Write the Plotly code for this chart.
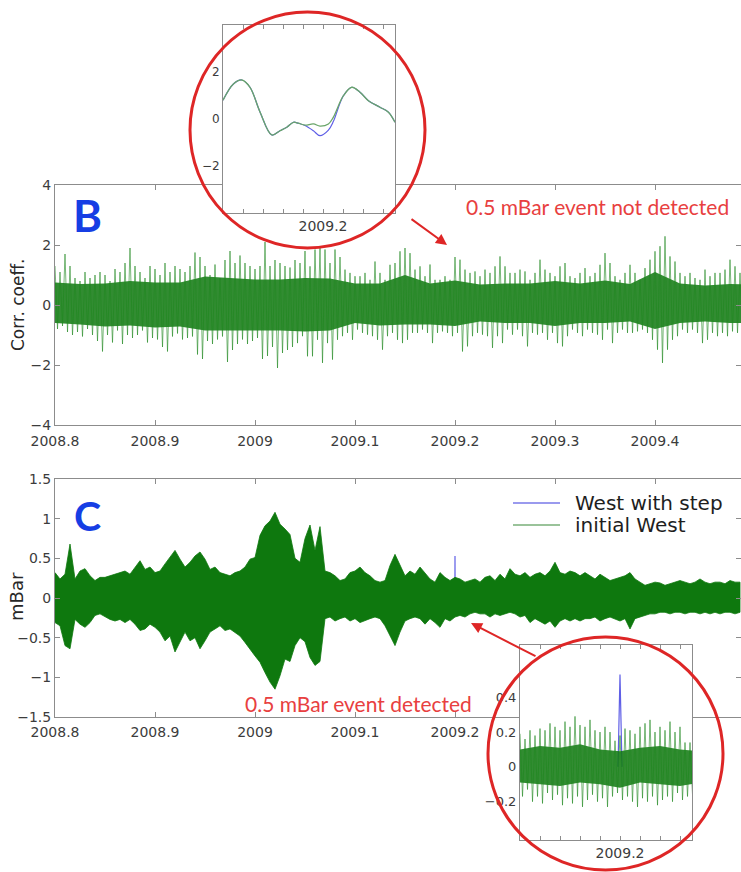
import plotly.graph_objects as go

W, H = 741, 872

# ---------------- Panel B: correlation coefficient ----------------
# min / max of the trace in consecutive 0.005-yr bins starting at 2008.8
B_T0, B_DT = 2008.8, 0.005
b_upper = [1.3, 1.1, 1.7, 1.3, 0.9, 0.8, 1.1, 0.9, 1.0, 1.1, 1.0, 0.8, 1.2, 1.1, 1.4, 1.9, 1.3, 1.1, 0.9, 1.3,
           1.2, 1.0, 1.4, 1.1, 1.3, 1.2, 1.1, 1.3, 1.75, 1.6, 1.3, 1.0, 1.35, 0.9, 1.5, 1.8, 1.4, 1.65, 1.4, 1.3,
           1.2, 1.3, 2.1, 1.3, 1.5, 1.4, 1.3, 1.25,
           1.5, 1.4, 1.8, 1.29, 1.85, 1.9, 1.85, 1.4, 1.85, 1.6, 1.18, 1.07, 0.96, 0.96, 1.07, 0.84, 1.45, 1.07,
           0.84, 1.34, 1.4, 1.79, 1.9, 1.73, 1.18, 1.29, 0.96, 1.35, 0.84, 0.84, 0.96, 0.84, 1.6, 1.51, 1.18, 1.07,
           1.12, 0.96, 1.18, 1.07, 1.29, 1.62, 1.29, 1.07,
           1.07, 1.18, 1.12, 0.84, 1.07, 1.51, 1.18, 1.07, 0.96, 1.29, 1.4, 0.96, 0.9, 1.07, 1.23, 0.96, 1.07, 1.34,
           1.73, 1.4, 0.96, 0.84, 1.07, 1.34, 1.07, 0.84, 1.23, 1.51, 1.79, 1.96, 2.29, 1.62, 1.45, 1.07, 0.96, 1.07,
           0.9, 0.84, 1.18, 0.96, 1.07, 1.07, 1.18, 1.51, 1.29, 1.07]
b_lower = [-0.8, -0.7, -0.9, -1.0, -0.9, -1.05, -0.8, -1.0, -1.2, -1.55, -1.0, -1.25, -0.85, -1.3, -1.0, -1.1,
           -1.0, -0.85, -1.25, -1.1, -1.15, -1.4, -1.55, -1.05, -0.95, -1.15, -1.1, -1.05, -1.65, -1.8, -1.2, -1.3,
           -1.15, -1.05, -1.9, -1.5, -1.3, -1.15, -1.3, -1.2, -1.1, -1.8, -1.7, -1.4, -2.1, -1.6, -1.5, -1.4,
           -1.27, -1.04, -1.71, -1.71, -1.16, -1.93, -1.27, -1.82, -1.16, -1.04, -0.93, -1.16, -0.82, -0.93, -0.99,
           -1.04, -1.16, -1.49, -1.04, -0.93, -1.16, -1.27, -1.16, -0.93, -0.93, -0.82, -0.93, -1.27, -0.93, -0.88,
           -0.93, -1.04, -0.93, -1.55, -1.38, -1.04, -0.93, -0.99, -1.04, -1.43, -1.04, -1.27, -0.82, -0.99,
           -0.82, -1.04, -1.38, -0.93, -0.99, -0.93, -1.16, -0.93, -1.27, -1.38, -1.04, -0.82, -0.93, -1.04, -0.82,
           -0.93, -0.99, -1.16, -0.82, -1.27, -0.93, -0.82, -0.93, -0.93, -0.88, -0.82, -0.93, -1.16, -1.49, -1.93,
           -1.49, -1.16, -1.04, -0.82, -0.93, -0.82, -0.93, -1.27, -1.16, -0.93, -1.04, -0.93, -1.04, -0.88, -0.93,
           -0.82]
# dense core of the same trace, 0.025-yr bins
B_CORE_DT = 0.025
b_core_upper = [0.75, 0.7, 0.72, 0.8, 0.75, 0.75, 0.95, 0.9, 0.85, 0.85, 0.9, 0.88, 0.72, 0.72, 1.0, 0.72,
                0.82, 0.68, 0.72, 0.72, 0.8, 0.72, 0.82, 0.7, 1.1, 0.72, 0.65, 0.7, 0.68]
b_core_lower = [-0.6, -0.65, -0.72, -0.68, -0.75, -0.72, -0.85, -0.85, -0.85, -0.85, -0.88, -0.85, -0.6,
                -0.68, -0.65, -0.65, -0.7, -0.55, -0.6, -0.6, -0.7, -0.6, -0.6, -0.55, -0.8, -0.6, -0.55,
                -0.6, -0.6]

# ---------------- Panel C: pressure (mBar) ----------------
C_T0, C_DT = 2008.8, 0.005
c_upper = [0.32, 0.24, 0.3, 0.68, 0.24, 0.34, 0.37, 0.28, 0.22, 0.26, 0.26, 0.28, 0.3, 0.32, 0.34, 0.3, 0.39,
           0.47, 0.36, 0.39, 0.32, 0.34, 0.43, 0.51, 0.6, 0.49, 0.39, 0.45, 0.53, 0.58, 0.49, 0.36, 0.39, 0.32,
           0.3, 0.28, 0.32, 0.34, 0.39, 0.49, 0.51, 0.79, 0.91, 0.97, 1.08, 0.93, 0.87, 0.8,
           0.5, 0.45, 0.75, 0.92, 0.6, 0.9,
           0.34, 0.32, 0.28, 0.22, 0.24, 0.32, 0.34, 0.39, 0.32, 0.28, 0.22, 0.2, 0.22, 0.41, 0.55, 0.41, 0.28,
           0.34, 0.3, 0.39, 0.32, 0.24, 0.2, 0.32, 0.26, 0.22, 0.26, 0.24, 0.2, 0.22, 0.24, 0.2, 0.26, 0.28, 0.22,
           0.3, 0.24, 0.37,
           0.3, 0.28, 0.32, 0.26, 0.3, 0.32, 0.28, 0.34, 0.45, 0.32, 0.3, 0.34, 0.32, 0.28, 0.32, 0.28, 0.24, 0.3,
           0.26, 0.22, 0.24, 0.26, 0.28, 0.32, 0.24, 0.2, 0.16, 0.18, 0.2, 0.19, 0.16, 0.18, 0.2, 0.22, 0.2, 0.18,
           0.2, 0.24, 0.2, 0.18, 0.2, 0.2, 0.18, 0.22, 0.2, 0.2]
c_lower = [-0.31, -0.35, -0.6, -0.64, -0.27, -0.33, -0.37, -0.31, -0.22, -0.2, -0.24, -0.27, -0.29, -0.27,
           -0.31, -0.27, -0.33, -0.41, -0.39, -0.33, -0.37, -0.43, -0.54, -0.48, -0.68, -0.56, -0.43, -0.54, -0.5,
           -0.64, -0.54, -0.43, -0.39, -0.35, -0.41, -0.39, -0.43, -0.48, -0.56, -0.64, -0.73, -0.81, -0.94,
           -1.06, -1.15, -0.98, -0.77, -0.8,
           -0.6, -0.5, -0.55, -0.75, -0.85, -0.8,
           -0.26, -0.24, -0.29, -0.26, -0.24, -0.29, -0.26, -0.31, -0.29, -0.26, -0.24, -0.26, -0.35, -0.47, -0.6,
           -0.43, -0.29, -0.26, -0.24, -0.26, -0.33, -0.26, -0.31, -0.37, -0.26, -0.29, -0.24, -0.22, -0.24, -0.2,
           -0.18, -0.2, -0.2, -0.24, -0.2, -0.22, -0.2, -0.18,
           -0.2, -0.24, -0.22, -0.31, -0.26, -0.29, -0.33, -0.29, -0.37, -0.29, -0.26, -0.29, -0.26, -0.29, -0.26,
           -0.26, -0.24, -0.29, -0.26, -0.24, -0.26, -0.29, -0.26, -0.39, -0.26, -0.24, -0.22, -0.2, -0.2, -0.18,
           -0.18, -0.2, -0.18, -0.18, -0.2, -0.18, -0.18, -0.2, -0.18, -0.2, -0.18, -0.2, -0.18, -0.18, -0.2,
           -0.18]

# 0.5 mBar step added at 2009.2 ("West with step")
step_t = [2009.1999, 2009.2, 2009.2001]
step_v = [0.0, 0.53, 0.0]

# ---------------- Zoom of panel B around 2009.2 ----------------
zb_t = [2009.195, 2009.19552, 2009.19594, 2009.19635, 2009.19685, 2009.19744, 2009.19785, 2009.19819,
        2009.19852, 2009.19877, 2009.1991, 2009.19952, 2009.19985, 2009.20027, 2009.20052, 2009.20102,
        2009.20144, 2009.20185, 2009.20227, 2009.20285, 2009.20327, 2009.2036]
zb_initial = [0.8, 1.49, 1.66, 1.35, 0.3, -0.68, -0.5, -0.35, -0.14, -0.18, -0.26, -0.21, -0.3, -0.21, 0.08,
              0.99, 1.35, 1.14, 0.78, 0.5, 0.29, -0.14]
zb_with_step = [0.8, 1.49, 1.66, 1.35, 0.3, -0.68, -0.5, -0.35, -0.14, -0.18, -0.28, -0.5, -0.71, -0.47, -0.1,
                0.99, 1.35, 1.14, 0.78, 0.5, 0.29, -0.14]

# ---------------- Zoom of panel C around 2009.2 ----------------
ZC_T0, ZC_DT = 2009.195, 0.00025
zc_upper = [0.19, 0.16, 0.21, 0.18, 0.22, 0.21, 0.25, 0.23, 0.21, 0.26, 0.23, 0.29, 0.24, 0.23, 0.27, 0.21,
            0.2, 0.23, 0.2, 0.15, 0.18, 0.22, 0.21, 0.19, 0.23, 0.25, 0.27, 0.2, 0.23, 0.21, 0.26, 0.2, 0.23,
            0.14, 0.14]
zc_lower = [-0.17, -0.13, -0.2, -0.17, -0.21, -0.15, -0.19, -0.16, -0.22, -0.18, -0.21, -0.17, -0.23, -0.19,
            -0.16, -0.2, -0.18, -0.23, -0.17, -0.15, -0.19, -0.17, -0.2, -0.23, -0.18, -0.2, -0.17, -0.22,
            -0.19, -0.17, -0.2, -0.15, -0.19, -0.17, -0.16]
ZC_CORE_DT = 0.001
zc_core_upper = [0.1, 0.12, 0.11, 0.13, 0.1, 0.09, 0.11, 0.12, 0.1, 0.09]
zc_core_lower = [-0.09, -0.1, -0.11, -0.09, -0.1, -0.12, -0.09, -0.1, -0.11, -0.09]

# ---------------- Axes ticks ----------------
main_tickvals = [2008.8, 2008.9, 2009.0, 2009.1, 2009.2, 2009.3, 2009.4]
main_ticktext = ["2008.8", "2008.9", "2009", "2009.1", "2009.2", "2009.3", "2009.4"]
b_yticks = [-4, -2, 0, 2, 4]
b_yticktext = ["\u22124", "\u22122", "0", "2", "4"]
c_yticks = [-1.5, -1, -0.5, 0, 0.5, 1, 1.5]
c_yticktext = ["\u22121.5", "\u22121", "\u22120.5", "0", "0.5", "1", "1.5"]
zoom_tickvals = [2009.195, 2009.196, 2009.197, 2009.198, 2009.199, 2009.2, 2009.201, 2009.202, 2009.203]
zoom_ticktext = ["", "", "", "", "", "2009.2", "", "", ""]
zb_yticks = [-2, 0, 2]
zb_yticktext = ["\u22122", "0", "2"]
zc_yticks = [-0.2, 0, 0.2, 0.4]
zc_yticktext = ["\u22120.2", "0", "0.2", "0.4"]

legend_names = ["West with step", "initial West"]

# ---------------- Styling ----------------
GREEN = "rgb(14,120,14)"
GREEN_SPIKE = "rgba(30,135,30,0.6)"
BLUE = "rgb(95,95,230)"
RED = "rgb(222,38,38)"
RED_TEXT = "rgb(232,64,64)"
LETTER_BLUE = "rgb(22,62,228)"
FRAME = "rgb(140,140,140)"
TXT = "rgb(60,60,60)"
TICK_FONT = "DejaVu Sans, Verdana, sans-serif"


def fx(px):
    return px / W


def fy(py):
    return 1 - py / H


def bins(t0, dt, n):
    return [t0 + i * dt for i in range(n)]


def minmax_path(t0, dt, hi, lo):
    """Alternate bin maxima and minima so the dense trace is drawn as one line."""
    xs, ys = [], []
    for t, h, l in zip(bins(t0, dt, len(hi)), hi, lo):
        xs += [t, t + dt / 2]
        ys += [h, l]
    return xs, ys


def band(t0, dt, hi, lo):
    t = bins(t0, dt, len(hi))
    return t + t[::-1], list(hi) + list(lo)[::-1]


fig = go.Figure()

# Panel B
bx, by = band(B_T0, B_CORE_DT, b_core_upper, b_core_lower)
fig.add_trace(go.Scatter(x=bx, y=by, fill="toself", fillcolor="rgba(14,120,14,0.85)",
                         line=dict(width=0), mode="lines", xaxis="x", yaxis="y", hoverinfo="skip"))
sx, sy = minmax_path(B_T0, B_DT, b_upper, b_lower)
fig.add_trace(go.Scatter(x=sx, y=sy, mode="lines", line=dict(color=GREEN_SPIKE, width=1),
                         xaxis="x", yaxis="y", hoverinfo="skip"))

# Panel C
fig.add_trace(go.Scatter(x=step_t, y=step_v, mode="lines", line=dict(color=BLUE, width=1.2),
                         name=legend_names[0], xaxis="x2", yaxis="y2"))
cx, cy = band(C_T0, C_DT, c_upper, c_lower)
fig.add_trace(go.Scatter(x=cx, y=cy, fill="toself", fillcolor=GREEN, mode="lines",
                         line=dict(color=GREEN, width=0.8), name=legend_names[1],
                         xaxis="x2", yaxis="y2"))

# Zoom of B
fig.add_trace(go.Scatter(x=zb_t, y=zb_with_step, mode="lines", line=dict(color=BLUE, width=1.2, shape="spline"),
                         xaxis="x3", yaxis="y3"))
fig.add_trace(go.Scatter(x=zb_t, y=zb_initial, mode="lines",
                         line=dict(color="rgb(105,165,105)", width=1.3, shape="spline"),
                         xaxis="x3", yaxis="y3"))

# Zoom of C
fig.add_trace(go.Scatter(x=step_t, y=step_v, mode="lines", line=dict(color=BLUE, width=1.2),
                         xaxis="x4", yaxis="y4"))
zx_, zy_ = band(ZC_T0, ZC_CORE_DT, zc_core_upper, zc_core_lower)
fig.add_trace(go.Scatter(x=zx_, y=zy_, fill="toself", fillcolor="rgba(14,120,14,0.85)",
                         line=dict(width=0), mode="lines", xaxis="x4", yaxis="y4"))
zsx, zsy = minmax_path(ZC_T0, ZC_DT, zc_upper, zc_lower)
fig.add_trace(go.Scatter(x=zsx, y=zsy, mode="lines", line=dict(color="rgba(30,135,30,0.6)", width=1),
                         xaxis="x4", yaxis="y4"))

fig.update_traces(showlegend=False)


def axis(**kw):
    base = dict(showline=True, linecolor=FRAME, linewidth=1, mirror="ticks", ticks="inside",
                tickcolor=FRAME, ticklen=5, showgrid=False, zeroline=False, automargin=False,
                tickfont=dict(family=TICK_FONT, size=14, color=TXT), fixedrange=True)
    base.update(kw)
    return base


main_x_range = [2008.8, 2008.8 + (W - 55) / 1000]
fig.update_layout(
    width=W, height=H, margin=dict(l=0, r=0, t=0, b=0, pad=0, autoexpand=False),
    paper_bgcolor="white", plot_bgcolor="white", showlegend=False,
    xaxis=axis(domain=[fx(55), 1.0], range=main_x_range, tickvals=main_tickvals, ticktext=main_ticktext,
               anchor="y", ticklabelstandoff=3),
    yaxis=axis(domain=[fy(425), fy(185)], range=[-4, 4], tickvals=b_yticks, ticktext=b_yticktext,
               anchor="x"),
    xaxis2=axis(domain=[fx(55), 1.0], range=main_x_range, tickvals=main_tickvals, ticktext=main_ticktext,
                anchor="y2", ticklabelstandoff=2),
    yaxis2=axis(domain=[fy(717), fy(479)], range=[-1.5, 1.5], tickvals=c_yticks, ticktext=c_yticktext,
                anchor="x2"),
    xaxis3=axis(domain=[fx(223), fx(395)], range=[2009.195, 2009.2036], tickvals=zoom_tickvals,
                ticktext=zoom_ticktext, ticklen=4, anchor="y3"),
    yaxis3=axis(domain=[fy(213), fy(25)], range=[-4, 4], tickvals=zb_yticks, ticktext=zb_yticktext,
                ticks="", tickfont=dict(family=TICK_FONT, size=12, color=TXT), anchor="x3"),
    xaxis4=axis(domain=[fx(520), fx(692)], range=[2009.195, 2009.2036], tickvals=zoom_tickvals,
                ticktext=zoom_ticktext, ticklen=4, anchor="y4"),
    yaxis4=axis(domain=[fy(840), fy(645)], range=[-0.42, 0.7], tickvals=zc_yticks, ticktext=zc_yticktext,
                ticks="", tickfont=dict(family=TICK_FONT, size=13, color=TXT), anchor="x4"),
)

shapes = [
    dict(type="circle", xref="paper", yref="paper", x0=fx(190), x1=fx(425), y0=fy(248), y1=fy(12),
         line=dict(color=RED, width=3), layer="above"),
    dict(type="circle", xref="paper", yref="paper", x0=fx(488), x1=fx(723), y0=fy(870), y1=fy(637),
         line=dict(color=RED, width=3), layer="above"),
]
legend_colors = ["rgb(120,120,232)", "rgb(120,175,120)"]
LEG_Y0, LEG_DY = 503, 22
for i, col in enumerate(legend_colors):
    ly = LEG_Y0 + LEG_DY * i
    shapes.append(dict(type="line", xref="paper", yref="paper", x0=fx(513), x1=fx(560), y0=fy(ly), y1=fy(ly),
                       line=dict(color=col, width=1.3), layer="above"))
fig.update_layout(shapes=shapes)

ann = [
    dict(text="Corr. coeff.", x=fx(18), y=fy(305), textangle=-90,
         font=dict(family=TICK_FONT, size=17, color="rgb(40,40,40)")),
    dict(text="mBar", x=fx(16), y=fy(597), textangle=-90,
         font=dict(family=TICK_FONT, size=18, color="rgb(40,40,40)")),
    dict(text="<b>B</b>", x=fx(87), y=fy(215), font=dict(family="Lato", size=44, color=LETTER_BLUE)),
    dict(text="<b>C</b>", x=fx(87), y=fy(515), font=dict(family="Lato", size=41, color=LETTER_BLUE)),
    dict(text="0.5 mBar event not detected", x=fx(597), y=fy(207),
         font=dict(family="Lato", size=21, color=RED_TEXT)),
    dict(text="0.5 mBar event detected", x=fx(358), y=fy(703),
         font=dict(family="Lato", size=21, color=RED_TEXT)),
]
for i, name in enumerate(legend_names):
    ann.append(dict(text=name, x=fx(573), y=fy(LEG_Y0 + LEG_DY * i), xanchor="left",
                    font=dict(family=TICK_FONT, size=20, color="rgb(30,30,30)")))
for a in ann:
    a.update(xref="paper", yref="paper", showarrow=False)
    a.setdefault("xanchor", "center")
    a.setdefault("yanchor", "middle")

# red arrows pointing at the event
ann.append(dict(x=fx(447), y=fy(245), ax=-37, ay=-27, xref="paper", yref="paper", text="",
                showarrow=True, arrowhead=2, arrowsize=1.1, arrowwidth=2, arrowcolor=RED))
ann.append(dict(x=fx(471), y=fy(623), ax=66, ay=34, xref="paper", yref="paper", text="",
                showarrow=True, arrowhead=2, arrowsize=1.1, arrowwidth=2, arrowcolor=RED))
fig.update_layout(annotations=ann)

fig.write_html("out.html")
